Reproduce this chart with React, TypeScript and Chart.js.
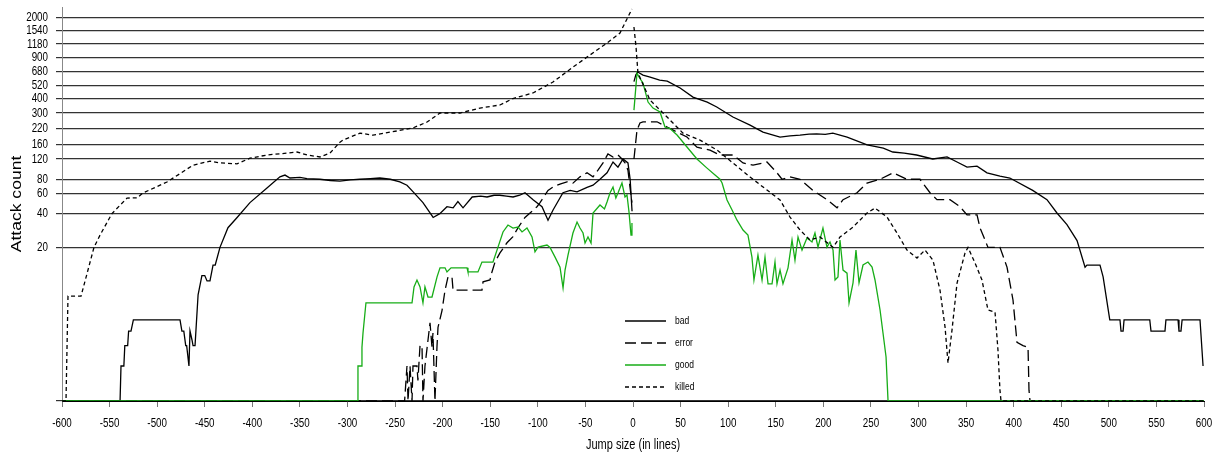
import React, { useEffect, useRef } from "react";
import { Chart, registerables } from "chart.js";

Chart.register(...registerables);

// ---- data: [jump size, attack count] ----
const badPts: [number, number | null][] = [
  [-600, 0], [-539, 0], [-538, 1], [-535, 1], [-534, 2], [-531, 2], [-530, 3], [-527.5, 3], [-525, 4], [-476, 4],
  [-474, 3], [-472, 3], [-470, 2], [-469, 2], [-466.6, 1], [-465.5, 3], [-463.4, 2.35], [-462.3, 2], [-460.2, 2],
  [-457, 7.2], [-453, 11], [-450, 11], [-447.6, 9.8], [-444.5, 9.8], [-441.3, 13.8], [-439, 13.8], [-434, 20],
  [-425.6, 30], [-416, 37], [-402.5, 50], [-384.6, 67], [-371, 84], [-365.7, 87], [-360.4, 82], [-350, 83], [-342.6, 81],
  [-329, 80], [-318, 78], [-308, 77], [-297, 79], [-287, 80], [-276, 81], [-266, 82], [-255, 80], [-245, 76],
  [-237.5, 71], [-231, 62], [-220.7, 50], [-210, 37], [-203, 40], [-195.5, 46], [-189, 45], [-184, 51], [-178.6, 45],
  [-169, 56], [-160, 57], [-153.4, 56], [-146, 58], [-140, 58], [-133, 57], [-126, 56], [-119, 58], [-113.5, 61],
  [-105, 53], [-95.6, 46], [-89.3, 35], [-84, 43], [-73.6, 61], [-66, 64], [-58.8, 62], [-48.3, 68], [-42, 71],
  [-34.7, 80], [-27.3, 91], [-21, 113], [-15.8, 102], [-10.5, 120], [-5.3, 111], [-3, 80], [-1, 42],
  [0, null],
  [1, 560], [3, 640], [5, 677], [10.5, 638], [18, 613], [28, 577], [36, 566], [49.5, 493], [63, 412], [78, 373],
  [88, 338], [105, 277], [123, 236], [136.6, 205], [154.5, 186], [165, 190], [175.5, 193], [185, 197], [193, 198],
  [202, 196], [210, 201], [225, 186], [246, 159], [263, 149], [273, 138], [285, 135], [298, 130], [315, 120],
  [330, 125], [340.5, 113], [351, 102], [361.5, 104], [372, 91], [385.6, 85], [396, 82], [420, 64], [435, 53],
  [445.5, 40.5], [456, 32], [466.6, 23], [475, 13.2], [477, 13.8], [490.7, 13.8], [494, 10.7], [501, 4], [511.7, 4],
  [512.8, 3], [515, 3], [516, 4], [543, 4], [544.3, 3], [559, 3], [560, 4], [572.7, 4], [573.7, 3], [575.8, 3],
  [577, 4], [595.8, 4], [599, 1],
];

const errorPts: [number, number | null][] = [
  [-600, 0], [-240, 0], [-237.5, 1], [-236.4, 0], [-234.3, 1], [-232.2, 0], [-231.2, 1], [-227, 1], [-226, 0.5],
  [-223.8, 2], [-221.7, 2], [-220.7, 0], [-218.6, 1], [-215.4, 2.35], [-213.3, 3.7], [-211.2, 1.9], [-210.2, 2.85],
  [-208.1, 0], [-206, 1.9], [-204.9, 3.3], [-200.7, 5], [-197.5, 8], [-194.4, 10.7], [-190.2, 10.7], [-189.1, 8],
  [-158.7, 8], [-157.6, 9.6], [-150.3, 10], [-148.2, 11.9], [-145, 14.7], [-139.8, 17.8], [-132.4, 22], [-126.1, 25],
  [-120.8, 30], [-113.5, 37], [-108.2, 40.5], [-100.9, 46], [-97.7, 50], [-89.3, 64], [-84.1, 68.5], [-76, 73],
  [-69.4, 76], [-63.1, 74], [-55.7, 84], [-48.3, 91], [-42, 84], [-36.8, 96], [-31.5, 111], [-26.3, 133], [-21, 125],
  [-15.8, 130], [-11.6, 120], [-8.4, 111], [-5.3, 96], [-3.2, 68.5], [-1.1, 50],
  [0, null],
  [1, 120], [4.2, 214], [7.3, 246], [10.5, 252], [25.2, 252], [35.8, 227], [46.3, 205], [56.7, 186], [67.2, 152],
  [80.9, 143], [91.4, 130], [105.1, 130], [115.6, 111], [126.1, 106], [140.8, 113], [151.3, 91], [156.6, 80],
  [165, 84], [175.5, 80], [189.1, 64], [203.8, 53], [214.4, 45], [220.7, 53], [235.4, 61], [245.9, 74], [259.6, 80],
  [273.2, 91], [287.9, 80], [301.6, 80], [312.1, 61], [319.4, 53], [333.1, 53], [343.6, 46], [351, 39], [361.5, 39],
  [364.6, 30], [373, 20], [385.6, 20], [393, 13.2], [399.3, 6.4], [403.5, 2.2], [409.8, 2], [415.1, 1.9],
  [416.1, 0.24], [417.2, 0], [600, 0],
];

const goodPts: [number, number | null][] = [
  [-600, 0], [-290, 0], [-289, 1], [-285.8, 1], [-284.8, 1.9], [-283.7, 2.85], [-280.6, 6], [-232.2, 6],
  [-230.1, 8.6], [-227, 10], [-223.8, 8.6], [-220.7, 6], [-218.6, 8.6], [-215.4, 6.85], [-211.2, 6.85],
  [-205.9, 10.7], [-202.8, 13], [-197.5, 13], [-195.5, 11.9], [-191.2, 13], [-174.4, 13], [-173.4, 11.9],
  [-162.9, 11.9], [-158.7, 14.7], [-147.1, 14.7], [-142.9, 18.9], [-136.6, 27.5], [-131.4, 31.7], [-126.1, 29.8],
  [-120.8, 30.4], [-116.6, 27.5], [-111.4, 29.8], [-106.1, 24.8], [-103, 18.2], [-99.8, 20.1], [-90.4, 21],
  [-87.2, 20], [-81.9, 16.3], [-76.7, 13.2], [-73.5, 8.4], [-71.4, 12.4], [-68.3, 17], [-63.1, 26.9], [-58.8, 33.7],
  [-55.7, 29.8], [-52.5, 26.9], [-50.4, 21.9], [-47.3, 24.8], [-44.1, 21.9], [-42, 40.5], [-34.7, 47.6],
  [-30, 44], [-27.3, 50.6], [-24.2, 60.7], [-21, 68.5], [-18, 55], [-15.8, 60.7], [-11.6, 74.2], [-8.4, 56],
  [-6.3, 58.3], [-4.2, 41.3], [-2.1, 25.8], [-1.1, 33],
  [0, null],
  [1, 318], [4.2, 664], [6.3, 613], [10.5, 544], [15.8, 373], [21, 331], [28.4, 306], [33.6, 227], [38.9, 220],
  [46.3, 193.5], [56.7, 152.5], [67.2, 120], [77.8, 100], [86.2, 87], [91.4, 80], [93.6, 74.2], [98.8, 52.7],
  [104.1, 43], [109.3, 35], [115.6, 28.6], [120.8, 25.8], [125, 16.3], [127.1, 10], [131.3, 17], [135.6, 10],
  [138.7, 16.3], [141.9, 9.2], [146.1, 9.2], [149.2, 14.7], [151.3, 9.2], [154.5, 12.4], [157.6, 9.2], [162.9, 13],
  [167.1, 23.3], [170.2, 15.3], [173.4, 24.8], [177.6, 18.9], [182.8, 24.3], [188.1, 22.4], [191.2, 26.9],
  [194.4, 20.1], [199.6, 29.8], [203.8, 20.1], [207, 22.4], [210.2, 18.9], [212.3, 10], [215.4, 10.7], [217.5, 23.3],
  [220.7, 12.4], [224.9, 11.6], [227, 6], [231.2, 9.4], [234.3, 18.9], [237.5, 9.4], [241.7, 13.8], [246.9, 14.7],
  [251.2, 13.2], [254.3, 10], [259.6, 5.07], [262.7, 2.85], [265.9, 1.39], [268, 0], [600, 0],
];

const killedPts: [number, number | null][] = [
  [-600, 0], [-595.8, 0], [-593.7, 7], [-580, 7], [-572.7, 12.4], [-566.4, 20], [-560, 25.8], [-547.5, 40],
  [-531.7, 54.8], [-521.2, 55], [-514.9, 60.7], [-489.7, 75.7], [-462.3, 106], [-444.5, 115], [-434, 111],
  [-416.1, 109], [-402.5, 122], [-384.6, 130], [-363.6, 135], [-353.1, 138], [-342.6, 130], [-328.9, 125],
  [-318.4, 135], [-307.9, 168], [-304.7, 175], [-286.9, 201], [-273.2, 193], [-248, 210], [-231.2, 223],
  [-216.4, 251], [-202.8, 300], [-181.8, 300], [-160.8, 331], [-139.8, 352], [-126.1, 400], [-105.1, 447],
  [-84.1, 555], [-63.1, 747], [-45.2, 949], [-27.3, 1204], [-13.7, 1468], [-3.2, 2182], [-1.1, 2361],
  [0, null],
  [1, 1654], [3.2, 1112], [5.2, 664], [17.9, 388], [35.8, 277], [52.5, 201], [70.4, 175], [88.3, 143.5],
  [105.1, 110.7], [123, 83.7], [140.8, 64.4], [154.5, 52.7], [165, 37.3], [175.5, 28.6], [186, 23.3], [196.5, 24.8],
  [210.2, 20], [217.5, 24.8], [231.2, 30.4], [245.9, 40.5], [254.3, 44.8], [266.9, 37.3], [277.4, 26.9],
  [287.9, 18.9], [298.4, 16], [306.8, 18.9], [315.2, 15.3], [322.6, 8], [327.9, 3.33], [331, 1.12], [335.2, 3.08],
  [340.5, 9.36], [348.9, 17.8], [352, 20], [359.4, 14.4], [366.7, 10], [373, 5.07], [380.4, 4.83], [383.5, 1.75],
  [385.6, 0.24], [386.7, 0], [600, 0],
];

const yTickValues = [0, 20, 40, 60, 80, 120, 160, 220, 300, 400, 520, 680, 900, 1180, 1540, 2000];
const yTickLabels = ["", "20", "40", "60", "80", "120", "160", "220", "300", "400", "520", "680", "900", "1180", "1540", "2000"];
const seriesNames = ["bad", "error", "good", "killed"];
const seriesColors = ["#000000", "#000000", "#17ad17", "#000000"];
const seriesDashes: number[][] = [[], [11, 5], [], [4, 3]];

const Y_TOP = 3.391; // log10(1 + count) at top of plot

const tf = (v: number | null) => (v == null ? null : Math.log10(1 + v));

const FONT = '"Liberation Sans", Arial, Helvetica, sans-serif';

function drawText(
  ctx: CanvasRenderingContext2D,
  text: string,
  x: number,
  y: number,
  size: number,
  align: CanvasTextAlign,
  sx = 1,
  sy = 1,
  rotate = false
) {
  ctx.save();
  ctx.translate(x, y);
  if (rotate) ctx.rotate(-Math.PI / 2);
  ctx.scale(sx, sy);
  ctx.font = `${size}px ${FONT}`;
  ctx.textAlign = align;
  ctx.textBaseline = "middle";
  ctx.fillStyle = "#000";
  ctx.fillText(text, 0, 0);
  ctx.restore();
}

const textPlugin = {
  id: "rtext",
  afterDraw(chart: any) {
    const ctx: CanvasRenderingContext2D = chart.ctx;
    const xs = chart.scales.x;
    const ys = chart.scales.y;
    const area = chart.chartArea;
    // y tick labels
    ys.ticks.forEach((t: any, i: number) => {
      const lbl = yTickLabels[i];
      if (!lbl) return;
      drawText(ctx, lbl, area.left - 14, ys.getPixelForValue(t.value), 9.8, "right", 1, 1.3);
    });
    // x tick labels
    xs.ticks.forEach((t: any) => {
      const v = t.value;
      const lbl = v < 0 ? "-" + Math.abs(v) : String(v);
      drawText(ctx, lbl, xs.getPixelForValue(v), area.bottom + 22, 9.8, "center", 1, 1.35);
    });
    // axis titles
    drawText(ctx, "Jump size (in lines)", (area.left + area.right) / 2, area.bottom + 44, 11, "center", 1, 1.37);
    drawText(ctx, "Attack count", 17, (area.top + area.bottom) / 2, 13, "center", 1.35, 1.15, true);
    // legend
    const lx0 = 625, lx1 = 666, ly0 = 321, dy = 22;
    seriesNames.forEach((name, i) => {
      const y = ly0 + i * dy;
      ctx.save();
      ctx.strokeStyle = seriesColors[i];
      ctx.lineWidth = 1.3;
      ctx.setLineDash(seriesDashes[i]);
      ctx.beginPath();
      ctx.moveTo(lx0, y);
      ctx.lineTo(lx1, y);
      ctx.stroke();
      ctx.restore();
      drawText(ctx, name, 675, y, 8.5, "left", 1, 1.37);
    });
  },
};

export default function App() {
  const ref = useRef<HTMLCanvasElement | null>(null);
  useEffect(() => {
    if (!ref.current) return;
    const all = [badPts, errorPts, goodPts, killedPts];
    const datasets = all.map((pts, i) => ({
      label: seriesNames[i],
      data: pts.map(([x, y]) => ({ x, y: tf(y) })),
      borderColor: seriesColors[i],
      borderWidth: 1.3,
      borderDash: seriesDashes[i],
      pointRadius: 0,
      fill: false,
      tension: 0,
      spanGaps: false,
      order: 4 - i,
    }));
    const chart = new Chart(ref.current, {
      type: "line",
      data: { datasets },
      options: {
        animation: false,
        responsive: false,
        devicePixelRatio: 1,
        layout: { padding: { left: 0, right: 16, top: 7, bottom: 0 } },
        plugins: { legend: { display: false }, tooltip: { enabled: false } },
        scales: {
          x: {
            type: "linear",
            min: -600,
            max: 600,
            afterFit: (s: any) => {
              s.height = 58;
            },
            ticks: { stepSize: 50, display: false, autoSkip: false },
            grid: { display: true, drawOnChartArea: false, drawTicks: true, tickLength: 6, color: "#777", lineWidth: 1 },
            border: { display: true, color: "#000", width: 1 },
          },
          y: {
            type: "linear",
            min: 0,
            max: Y_TOP,
            afterFit: (s: any) => {
              s.width = 62;
            },
            afterBuildTicks: (s: any) => {
              s.ticks = yTickValues.map((v) => ({ value: Math.log10(1 + v) }));
            },
            ticks: { display: false, autoSkip: false },
            grid: { display: true, drawOnChartArea: true, drawTicks: true, tickLength: 6, color: "#333", lineWidth: 1.2 },
            border: { display: true, color: "#888", width: 1 },
          },
        },
      },
      plugins: [textPlugin],
    });
    return () => chart.destroy();
  }, []);
  return (
    <div style={{ position: "absolute", left: 0, top: 0, width: 1220, height: 459, background: "#fff" }}>
      <canvas ref={ref} width={1220} height={459} style={{ display: "block" }} />
    </div>
  );
}
